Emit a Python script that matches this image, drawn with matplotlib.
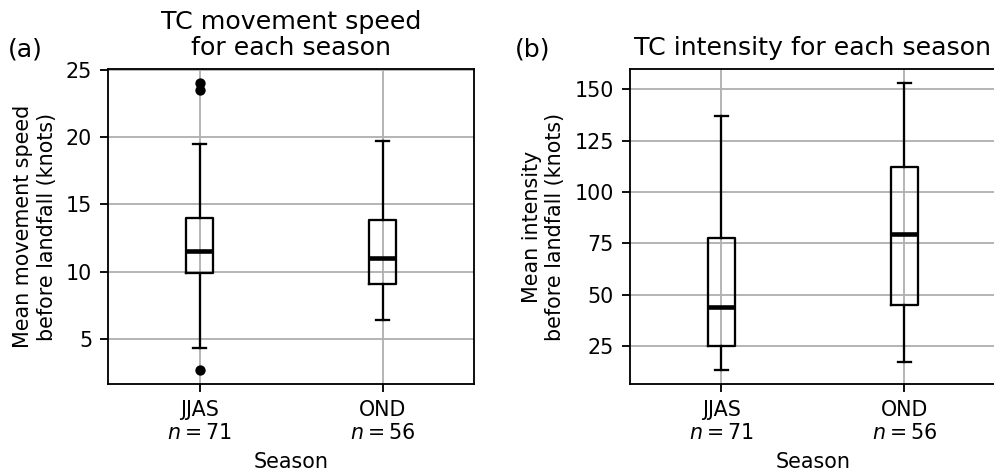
import matplotlib
matplotlib.use('Agg')
import matplotlib.pyplot as plt

# Season labels and sample sizes
seasons = ['JJAS', 'OND']
n_obs = [71, 56]

# (a) mean movement speed before landfall (knots)
speed_whislo = [4.3, 6.4]
speed_q1 = [9.9, 9.1]
speed_med = [11.5, 11.0]
speed_q3 = [14.0, 13.8]
speed_whishi = [19.5, 19.7]
speed_fliers = [[24.0, 23.5, 2.7], []]

# (b) mean intensity before landfall (knots)
int_whislo = [13.6, 17.3]
int_q1 = [25.2, 45.0]
int_med = [44.2, 79.5]
int_q3 = [77.8, 112.1]
int_whishi = [136.9, 152.9]
int_fliers = [[], []]


def make_stats(lo, q1, med, q3, hi, fl):
    stats = []
    for i in range(len(seasons)):
        stats.append(dict(whislo=lo[i], q1=q1[i], med=med[i], q3=q3[i],
                          whishi=hi[i], fliers=fl[i]))
    return stats


DPI = 165
fig = plt.figure(figsize=(994 / DPI, 475 / DPI), dpi=DPI)
ax1 = fig.add_axes([0.1087, 0.1916, 0.3682, 0.6632])
ax2 = fig.add_axes([0.6338, 0.1916, 0.3682, 0.6632])

box_kw = dict(
    boxprops=dict(color='black', linewidth=1.0),
    whiskerprops=dict(color='black', linewidth=1.0),
    capprops=dict(color='black', linewidth=1.0),
    medianprops=dict(color='black', linewidth=2.0),
    flierprops=dict(marker='o', markerfacecolor='black', markeredgecolor='black',
                    markersize=3.5),
)

xticklabels = [s + '\n' + r'$n = %d$' % n for s, n in zip(seasons, n_obs)]

ax1.bxp(make_stats(speed_whislo, speed_q1, speed_med, speed_q3, speed_whishi,
                   speed_fliers), **box_kw)
ax2.bxp(make_stats(int_whislo, int_q1, int_med, int_q3, int_whishi,
                   int_fliers), **box_kw)

for ax in (ax1, ax2):
    ax.grid(True)
    ax.set_axisbelow(True)
    ax.set_xticks([1, 2])
    ax.set_xticklabels(xticklabels, fontsize=9)
    ax.tick_params(axis='y', labelsize=9)
    ax.set_xlabel('Season', fontsize=9)

# right panel runs off the figure edge, so its right spine is not seen
ax2.spines['right'].set_visible(False)

ax1.set_yticks([5, 10, 15, 20, 25])
ax2.set_yticks([25, 50, 75, 100, 125, 150])

ax1.set_ylabel('Mean movement speed\nbefore landfall (knots)', fontsize=9)
ax2.set_ylabel('Mean intensity\nbefore landfall (knots)', fontsize=9)
ax1.set_title('TC movement speed\nfor each season', fontsize=11, linespacing=1.1)
ax2.set_title('TC intensity for each season', fontsize=11)

ax1.text(-0.273, 1.038, '(a)', transform=ax1.transAxes, fontsize=11, va='baseline')
ax2.text(-0.314, 1.038, '(b)', transform=ax2.transAxes, fontsize=11, va='baseline')

fig.savefig('out.png', dpi=DPI)
